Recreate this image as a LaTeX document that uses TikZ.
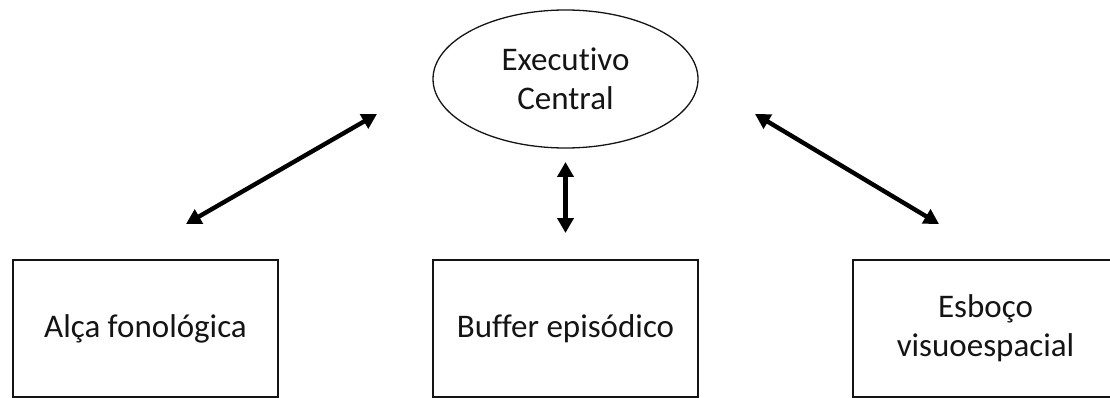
\documentclass[tikz,border=0pt]{standalone}
\usepackage{fontspec}
\setmainfont[RawFeature=-liga]{Carlito}
\usepackage{tikz}
\usetikzlibrary{arrows.meta,positioning,calc,shapes.geometric}
\definecolor{inkgray}{RGB}{20,20,20}

\tikzset{
  compbox/.style={draw=inkgray,line width=1.3pt,minimum width=265pt,minimum height=137pt,
    align=center,font=\fontsize{33}{39}\selectfont,text=inkgray},
  linkarrow/.style={{Triangle[length=15pt,width=16pt]}-{Triangle[length=15pt,width=16pt]},line width=4.4pt}
}

\begin{document}
\begin{tikzpicture}[x=1pt,y=-1pt]
\useasboundingbox (0,0) rectangle (1110,398);
\node[ellipse,draw=inkgray,line width=1.3pt,minimum width=265pt,minimum height=138pt,inner sep=0pt,
  align=center,font=\fontsize{33}{39}\selectfont,text=inkgray] (exec) at (565.5,79) {Executivo\\Central};
\node[compbox] (alca) at (145.5,328.5) {Alça fonológica};
\node[compbox] (buffer) at (565.5,328.5) {Buffer episódico};
\node[compbox] (esboco) at (985.5,328.5) {Esboço\\visuoespacial};
% ends of the arrows
\coordinate (alcaTop) at (186,224);
\coordinate (execLeft) at (377,114);
\coordinate (bufferTop) at (565.5,233);
\coordinate (execBottom) at (565.5,162);
\coordinate (esbocoTop) at (939,224);
\coordinate (execRight) at (755,114);
\draw[linkarrow] (alcaTop)--(execLeft);
\draw[linkarrow] (bufferTop)--(execBottom);
\draw[linkarrow] (esbocoTop)--(execRight);
\end{tikzpicture}
\end{document}
